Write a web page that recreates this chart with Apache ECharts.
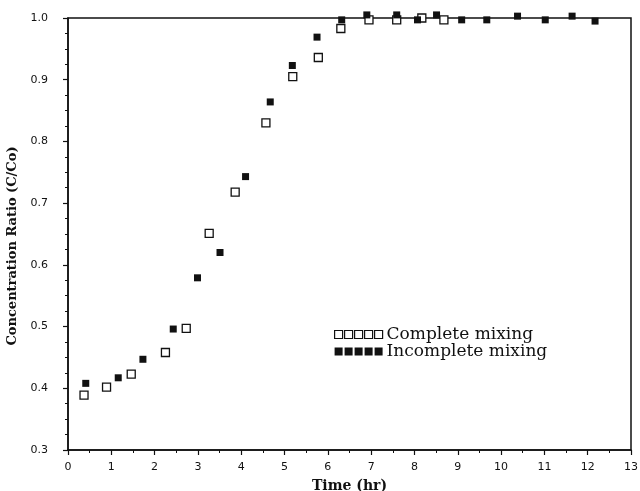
<!DOCTYPE html>
<html>
<head>
<meta charset="utf-8">
<script src="https://cdn.jsdelivr.net/npm/echarts@6/dist/echarts.min.js"></script>
<style>
  html, body { margin: 0; padding: 0; background: #fff; }
  #chart { width: 640px; height: 491px; }
</style>
</head>
<body>
<div id="chart"></div>
<script>
// Complete mixing: time (hr) and concentration ratio C/Co
const completeTime  = [0.37, 0.89, 1.46, 2.25, 2.73, 3.26, 3.86, 4.57, 5.19, 5.78, 6.30, 6.95, 7.59, 8.17, 8.68];
const completeRatio = [0.389, 0.402, 0.423, 0.458, 0.497, 0.651, 0.718, 0.830, 0.905, 0.936, 0.983, 0.997, 0.997, 1.000, 0.997];

// Incomplete mixing
const incompleteTime  = [0.41, 1.16, 1.73, 2.43, 2.99, 3.51, 4.10, 4.67, 5.18, 5.75, 6.32, 6.90, 7.59, 8.07, 8.51, 9.09, 9.67, 10.38, 11.02, 11.64, 12.17];
const incompleteRatio = [0.408, 0.417, 0.447, 0.496, 0.579, 0.620, 0.743, 0.864, 0.923, 0.969, 0.997, 1.005, 1.005, 0.997, 1.005, 0.997, 0.997, 1.003, 0.997, 1.003, 0.995];

const xTicks = { min: 0, max: 13, step: 1 };
const yTicks = { min: 0.3, max: 1.0, step: 0.1 };

const pairs = (xs, ys) => xs.map((x, i) => [x, ys[i]]);

// five-square legend swatch
const fiveSquares = 'path://M0,0h8v8h-8z M10,0h8v8h-8z M20,0h8v8h-8z M30,0h8v8h-8z M40,0h8v8h-8z';

const serif = 'DejaVu Serif';
const ink = '#111';

const chart = echarts.init(document.getElementById('chart'), null, { renderer: 'canvas' });
chart.setOption({
  backgroundColor: '#fff',
  animation: false,
  grid: {
    left: 68, right: 9, top: 18, bottom: 41,
    outerBoundsMode: 'none',
    containLabel: false,
    show: true, borderColor: ink, borderWidth: 1.5, backgroundColor: 'transparent'
  },
  legend: {
    orient: 'vertical',
    left: 329, top: 321,
    itemWidth: 48, itemHeight: 8,
    itemGap: 0,
    selectedMode: false,
    textStyle: { fontFamily: serif, fontSize: 17, color: ink, padding: [0, 0, 0, -1] },
    data: [
      { name: 'Complete mixing', icon: fiveSquares,
        itemStyle: { color: '#fff', borderColor: ink, borderWidth: 1.2 } },
      { name: 'Incomplete mixing', icon: fiveSquares,
        itemStyle: { color: ink, borderColor: ink, borderWidth: 0 } }
    ]
  },
  xAxis: {
    type: 'value',
    min: xTicks.min, max: xTicks.max, interval: xTicks.step,
    name: 'Time (hr)',
    nameLocation: 'middle',
    nameGap: 29,
    nameTextStyle: { fontFamily: serif, fontSize: 14, fontWeight: 'bold', color: ink },
    axisLine: { show: true, lineStyle: { color: ink, width: 1.5 } },
    axisTick: { show: true, inside: false, length: 5, lineStyle: { color: ink, width: 1.2 } },
    minorTick: { show: true, splitNumber: 2, length: 3, lineStyle: { color: ink, width: 1 } },
    axisLabel: { fontFamily: 'DejaVu Sans', fontSize: 11, color: ink, margin: 12 },
    splitLine: { show: false }
  },
  yAxis: {
    type: 'value',
    min: yTicks.min, max: yTicks.max, interval: yTicks.step,
    name: 'Concentration Ratio (C/Co)',
    nameLocation: 'middle',
    nameGap: 46,
    nameTextStyle: { fontFamily: serif, fontSize: 13, fontWeight: 'bold', color: ink, padding: [0, 24, 0, 0] },
    axisLine: { show: true, lineStyle: { color: ink, width: 1.5 } },
    axisTick: { show: true, inside: false, length: 5, lineStyle: { color: ink, width: 1.2 } },
    minorTick: { show: true, splitNumber: 4, length: 3, lineStyle: { color: ink, width: 1 } },
    axisLabel: {
      fontFamily: 'DejaVu Sans', fontSize: 11, color: ink, margin: 20,
      formatter: v => v.toFixed(1)
    },
    splitLine: { show: false }
  },
  series: [
    {
      name: 'Complete mixing',
      type: 'scatter',
      symbol: 'rect',
      symbolSize: 8,
      clip: false,
      itemStyle: { color: '#fff', borderColor: ink, borderWidth: 1.3, opacity: 1 },
      data: pairs(completeTime, completeRatio),
      z: 2
    },
    {
      name: 'Incomplete mixing',
      type: 'scatter',
      symbol: 'rect',
      symbolSize: 7,
      clip: false,
      itemStyle: { color: ink, opacity: 1 },
      data: pairs(incompleteTime, incompleteRatio),
      z: 3
    }
  ]
});
</script>
</body>
</html>
